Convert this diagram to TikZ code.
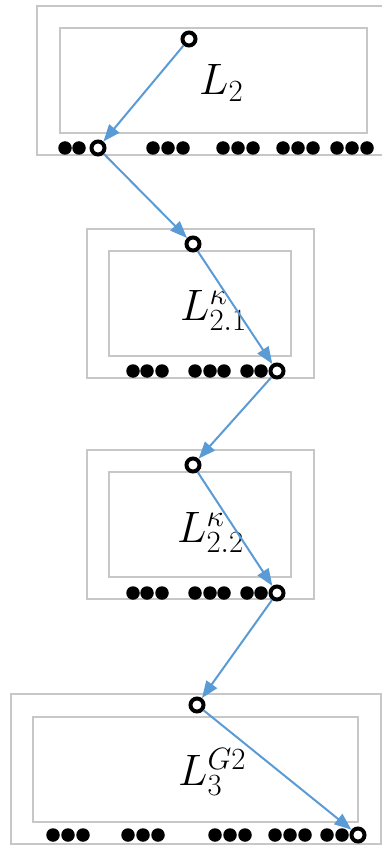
\RequirePackage{fix-cm}
\documentclass[tikz,border=0pt]{standalone}
\usepackage{xcolor}
\usepackage{tikz}
\usetikzlibrary{arrows.meta}
\definecolor{flowblue}{HTML}{5B9BD5}

\begin{document}
\begin{tikzpicture}[
  x=1pt,y=-1pt,
  outerbox/.style={draw=black!22,line width=1.3pt},
  innerbox/.style={draw=black!22,line width=1.3pt},
  dot/.style={circle,fill=black,inner sep=0pt,minimum size=13.5pt},
  port/.style={circle,draw=black,fill=white,line width=4pt,inner sep=0pt,minimum size=13pt},
  flow/.style={-{Triangle[length=17pt,width=13pt]},draw=flowblue,line width=2pt},
  lbl/.style={anchor=base west,inner sep=0pt,font=\fontsize{44}{48}\selectfont}
]
  \useasboundingbox (0,0) rectangle (382,850);

  % level L_2
  \draw[outerbox] (37,6) rectangle (388,155);
  \draw[innerbox] (60,28) rectangle (367,133);
  \foreach \x in {65,79,153,168,183,223,238,253,283,298,313,337,352,367}
    \node[dot] at (\x,148) {};
  \node[port] (a1) at (189,39) {};
  \node[port] (a2) at (98,148) {};
  \node[lbl] (la) at (199,95) {$L_2$};

  % level L_2.1
  \draw[outerbox] (87,229) rectangle (314,378);
  \draw[innerbox] (109,251) rectangle (291,356);
  \foreach \x in {133,147,162,195,210,224,247,261}
    \node[dot] at (\x,371) {};
  \node[port] (b1) at (193,244) {};
  \node[port] (b2) at (277,371) {};
  \node[lbl] (lb) at (180,320) {$L^{\kappa}_{2.1}$};

  % level L_2.2
  \draw[outerbox] (87,450) rectangle (314,599);
  \draw[innerbox] (109,472) rectangle (291,577);
  \foreach \x in {133,147,162,195,210,224,247,261}
    \node[dot] at (\x,593) {};
  \node[port] (c1) at (193,465) {};
  \node[port] (c2) at (277,593) {};
  \node[lbl] (lc) at (177,542) {$L^{\kappa}_{2.2}$};

  % level L_3
  \draw[outerbox] (11,694) rectangle (381,844);
  \draw[innerbox] (33,717) rectangle (358,822);
  \foreach \x in {53,68,83,128,143,158,215,230,245,275,290,305,327,342}
    \node[dot] at (\x,835) {};
  \node[port] (d1) at (197,705) {};
  \node[port] (d2) at (358,835) {};
  \node[lbl] (ld) at (178,785) {$L^{G2}_{3}$};

  % flow between ports
  \draw[flow] (a1) -- (a2);
  \draw[flow] (a2) -- (b1);
  \draw[flow] (b1) -- (b2);
  \draw[flow] (b2) -- (c1);
  \draw[flow] (c1) -- (c2);
  \draw[flow] (c2) -- (d1);
  \draw[flow] (d1) -- (d2);
\end{tikzpicture}
\end{document}
